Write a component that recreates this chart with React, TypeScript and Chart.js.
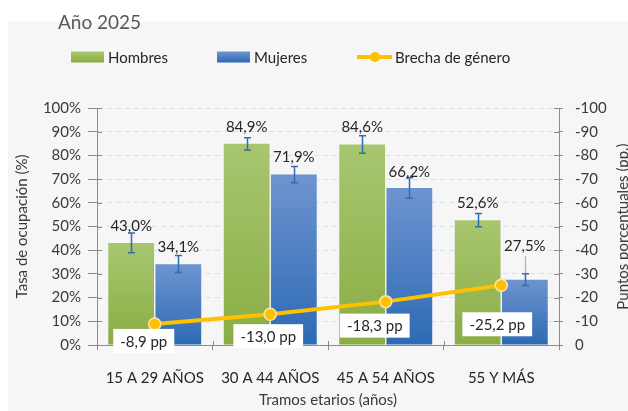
import React, { useEffect, useRef } from 'react';
import { Chart, registerables } from 'chart.js';

Chart.register(...registerables);

// ---------- data ----------
const categories = ['15 A 29 AÑOS', '30 A 44 AÑOS', '45 A 54 AÑOS', '55 Y MÁS'];
const hombres = [43.0, 84.9, 84.6, 52.6];
const mujeres = [34.1, 71.9, 66.2, 27.5];
const brecha = [-8.9, -13.0, -18.3, -25.2];
const hombresErrLow = [38.9, 82.3, 80.9, 49.9];
const hombresErrHigh = [47.3, 87.4, 88.3, 55.5];
const mujeresErrLow = [30.6, 68.5, 61.9, 25.1];
const mujeresErrHigh = [37.8, 75.3, 70.6, 30.1];
const mujeresWhiskerTop = [null, null, null, 37.4];

const seriesLabels = ['Hombres', 'Mujeres', 'Brecha de género'];
const yTitle = 'Tasa de ocupación (%)';
const y2Title = 'Puntos porcentuales (pp.)';
const xTitle = 'Tramos etarios (años)';
const chartTitle = 'Año 2025';

// ---------- style ----------
const FAMILY = 'Lato';
const FS = 15;
const AXIS = '#8c8c8c';
const GRID = '#d3e0ef';
const TEXT = '#262626';
const TICK = '#3a3a3a';
const ERR = '#2f6db4';
const GREEN_TOP = '#a8c66f';
const GREEN_BOT = '#8aad44';
const BLUE_TOP = '#6e94d0';
const BLUE_BOT = '#2d6ab4';
const YELLOW = '#FFC000';

// label offsets (pixels)
const hombresLift = [17, 17, 17, 17];
const mujeresLift = [17, 17, 16, 34];
const brechaLabelDx = [-11, -2, -11, -4];
const brechaLabelDy = [17, 22, 24, 39];

const fmt = (v: number) => v.toFixed(1).replace('.', ',');

const barGradient = (top: string, bottom: string) => (c: any) => {
  const chart = c.chart;
  if (c.type !== 'data' || !chart.chartArea || !chart.scales.y) return bottom;
  const ys = chart.scales.y;
  const yTop = ys.getPixelForValue(c.raw);
  const yBot = ys.getPixelForValue(0);
  if (!isFinite(yTop) || !isFinite(yBot) || yTop === yBot) return bottom;
  const g = chart.ctx.createLinearGradient(0, yTop, 0, yBot);
  g.addColorStop(0, top);
  g.addColorStop(1, bottom);
  return g;
};

const decor = {
  id: 'decor',
  beforeDatasetsDraw(chart: any) {
    const { ctx, chartArea: a, scales } = chart;
    ctx.save();
    ctx.strokeStyle = AXIS;
    ctx.lineWidth = 1;
    ctx.beginPath();
    scales.y.ticks.forEach((_t: any, i: number) => {
      const py = Math.round(scales.y.getPixelForTick(i)) + 0.5;
      ctx.moveTo(a.left, py);
      ctx.lineTo(a.left + 5, py);
    });
    scales.y2.ticks.forEach((_t: any, i: number) => {
      const py = Math.round(scales.y2.getPixelForTick(i)) + 0.5;
      ctx.moveTo(a.right - 5, py);
      ctx.lineTo(a.right, py);
    });
    for (let i = 1; i < categories.length; i++) {
      const px = Math.round(scales.x.getPixelForValue(i - 0.5)) + 0.5;
      ctx.moveTo(px, a.bottom - 4);
      ctx.lineTo(px, a.bottom);
    }
    ctx.stroke();
    ctx.restore();
  },
  afterDatasetDraw(chart: any, args: any) {
    const idx = args.index;
    if (idx > 1) return;
    const { ctx, scales } = chart;
    const ys = scales.y;
    const lows = idx === 0 ? hombresErrLow : mujeresErrLow;
    const highs = idx === 0 ? hombresErrHigh : mujeresErrHigh;
    const meta = chart.getDatasetMeta(idx);
    ctx.save();
    meta.data.forEach((bar: any, i: number) => {
      const x = Math.round(bar.x) + 0.5;
      const yl = ys.getPixelForValue(lows[i]);
      const yh = ys.getPixelForValue(highs[i]);
      if (idx === 1 && mujeresWhiskerTop[i] != null) {
        ctx.strokeStyle = '#8fb3e2';
        ctx.lineWidth = 1.2;
        ctx.beginPath();
        ctx.moveTo(x, yh);
        ctx.lineTo(x, ys.getPixelForValue(mujeresWhiskerTop[i] as number));
        ctx.stroke();
      }
      ctx.strokeStyle = ERR;
      ctx.lineWidth = 1.5;
      ctx.beginPath();
      ctx.moveTo(x, yl);
      ctx.lineTo(x, yh);
      ctx.moveTo(x - 3.5, yl);
      ctx.lineTo(x + 3.5, yl);
      ctx.moveTo(x - 3.5, yh);
      ctx.lineTo(x + 3.5, yh);
      ctx.stroke();
    });
    ctx.restore();
  },
  afterDraw(chart: any) {
    const { ctx, chartArea: a, scales } = chart;
    const ys = scales.y;
    ctx.save();
    ctx.font = `${FS}px ${FAMILY}`;
    ctx.fillStyle = TEXT;
    ctx.textAlign = 'center';
    ctx.textBaseline = 'middle';
    // bar labels
    [hombres, mujeres].forEach((vals, d) => {
      const lifts = d === 0 ? hombresLift : mujeresLift;
      const meta = chart.getDatasetMeta(d);
      meta.data.forEach((bar: any, i: number) => {
        const y = ys.getPixelForValue(vals[i]) - lifts[i];
        ctx.fillText(fmt(vals[i]) + '%', bar.x, y);
      });
    });
    // line labels
    const lmeta = chart.getDatasetMeta(2);
    lmeta.data.forEach((pt: any, i: number) => {
      const txt = fmt(brecha[i]) + ' pp';
      const w = ctx.measureText(txt).width + 14;
      const h = 24;
      const cx = pt.x + brechaLabelDx[i];
      const cy = pt.y + brechaLabelDy[i];
      ctx.fillStyle = '#ffffff';
      ctx.fillRect(cx - w / 2, cy - h / 2, w, h);
      ctx.fillStyle = TEXT;
      ctx.fillText(txt, cx, cy + 1);
    });
    // legend
    const ly = 36;
    const items = [
      { x: 63, kind: 'box', top: GREEN_TOP, bot: GREEN_BOT },
      { x: 209, kind: 'box', top: BLUE_TOP, bot: BLUE_BOT },
      { x: 349, kind: 'line' },
    ];
    ctx.textAlign = 'left';
    items.forEach((it: any, i) => {
      if (it.kind === 'box') {
        const g = ctx.createLinearGradient(0, ly - 5, 0, ly + 5);
        g.addColorStop(0, it.top);
        g.addColorStop(1, it.bot);
        ctx.fillStyle = g;
        ctx.fillRect(it.x, ly - 5.5, 33, 11);
      } else {
        ctx.strokeStyle = YELLOW;
        ctx.lineWidth = 4;
        ctx.beginPath();
        ctx.moveTo(it.x, ly);
        ctx.lineTo(it.x + 35, ly);
        ctx.stroke();
        ctx.fillStyle = YELLOW;
        ctx.beginPath();
        ctx.arc(it.x + 18, ly, 5, 0, Math.PI * 2);
        ctx.fill();
      }
      ctx.fillStyle = TEXT;
      ctx.fillText(seriesLabels[i], it.x + (it.kind === 'box' ? 37 : 38), ly + 1);
    });
    // right axis title
    ctx.save();
    ctx.translate(615, (a.top + a.bottom) / 2);
    ctx.rotate(-Math.PI / 2);
    ctx.textAlign = 'center';
    ctx.textBaseline = 'middle';
    ctx.fillStyle = TICK;
    ctx.fillText(y2Title, 0, 0);
    ctx.restore();
    ctx.restore();
  },
};

const tickFont = { family: FAMILY, size: FS };

export default function App() {
  const ref = useRef<HTMLCanvasElement>(null);
  useEffect(() => {
    if (!ref.current) return;
    const chart = new Chart(ref.current, {
      type: 'bar',
      data: {
        labels: categories,
        datasets: [
          {
            type: 'bar',
            label: seriesLabels[0],
            data: hombres,
            yAxisID: 'y',
            backgroundColor: barGradient(GREEN_TOP, GREEN_BOT) as any,
            categoryPercentage: 0.817,
            barPercentage: 0.97,
            order: 1,
          },
          {
            type: 'bar',
            label: seriesLabels[1],
            data: mujeres,
            yAxisID: 'y',
            backgroundColor: barGradient(BLUE_TOP, BLUE_BOT) as any,
            categoryPercentage: 0.817,
            barPercentage: 0.97,
            order: 1,
          },
          {
            type: 'line',
            label: seriesLabels[2],
            data: brecha,
            yAxisID: 'y2',
            borderColor: YELLOW,
            borderWidth: 4,
            pointRadius: 6,
            pointBackgroundColor: YELLOW,
            pointBorderColor: '#fde7a6',
            pointBorderWidth: 1.5,
            tension: 0,
            order: 0,
          } as any,
        ],
      },
      options: {
        responsive: false,
        animation: false,
        layout: { padding: { top: 87, left: 0, right: 0, bottom: 2 } },
        plugins: {
          legend: { display: false },
          tooltip: { enabled: false },
        },
        scales: {
          x: {
            grid: { drawOnChartArea: false, tickLength: 5, color: AXIS, offset: true },
            border: { color: AXIS },
            ticks: { font: tickFont, color: TEXT, padding: 19, maxRotation: 0, autoSkip: false },
            title: {
              display: true,
              text: xTitle,
              font: tickFont,
              color: TICK,
              padding: { top: 4, bottom: 0 },
            },
            afterFit: (s: any) => {
              s.height = 64;
            },
          },
          y: {
            position: 'left',
            min: 0,
            max: 100,
            ticks: {
              stepSize: 10,
              callback: (v: any) => `${v}%`,
              font: tickFont,
              color: TICK,
              padding: 7,
            },
            grid: { color: GRID, tickColor: AXIS, tickLength: 9 },
            border: { color: AXIS, dash: [5, 4] },
            title: {
              display: true,
              text: yTitle,
              font: tickFont,
              color: TICK,
              padding: { top: 5, bottom: 0 },
            },
            afterFit: (s: any) => {
              s.width = 89;
            },
          },
          y2: {
            position: 'right',
            min: -100,
            max: 0,
            reverse: true,
            ticks: { stepSize: 10, font: tickFont, color: TICK, padding: 12 },
            grid: { drawOnChartArea: false, tickLength: 4, color: AXIS },
            border: { color: AXIS },
            afterFit: (s: any) => {
              s.width = 69;
            },
          },
        },
      } as any,
      plugins: [decor],
    });
    return () => chart.destroy();
  }, []);

  return (
    <div
      style={{
        position: 'fixed',
        left: 0,
        top: 0,
        width: 628,
        height: 411,
        background: '#ffffff',
        overflow: 'hidden',
      }}
    >
      <div
        style={{
          position: 'absolute',
          left: 8,
          top: 21,
          width: 620,
          height: 390,
          background: '#f6f6f6',
        }}
      >
        <canvas ref={ref} width={620} height={390} style={{ display: 'block', width: 620, height: 390 }} />
      </div>
      <div
        style={{
          position: 'absolute',
          left: 58,
          top: 11.5,
          fontFamily: FAMILY,
          fontSize: 19,
          lineHeight: '19px',
          color: '#595959',
          whiteSpace: 'nowrap',
        }}
      >
        {chartTitle}
      </div>
    </div>
  );
}
